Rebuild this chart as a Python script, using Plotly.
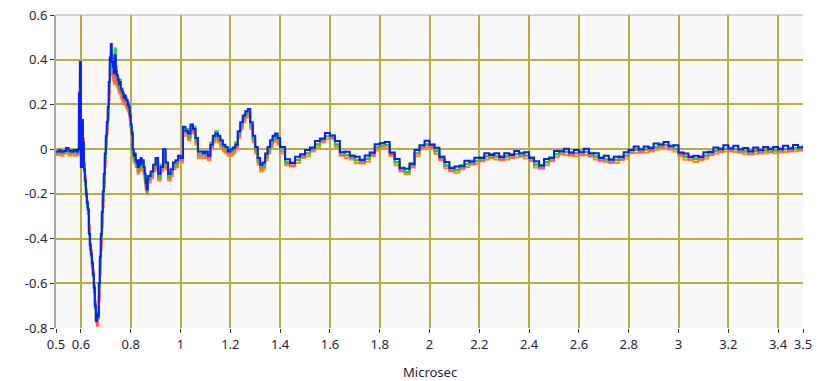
import plotly.graph_objects as go

# ---- data (time in microseconds) ----
time_us = [
    0.50, 0.51, 0.52, 0.53, 0.54, 0.55, 0.56, 0.57, 0.58,
    0.584, 0.588, 0.592, 0.596, 0.600, 0.604, 0.608, 0.612, 0.616, 0.620,
    0.624, 0.628, 0.632, 0.636, 0.640, 0.644, 0.648, 0.652, 0.656, 0.660,
    0.664, 0.668, 0.672, 0.676, 0.680, 0.684, 0.688, 0.692, 0.696, 0.700,
    0.704, 0.708, 0.712, 0.716, 0.720, 0.724, 0.728, 0.732, 0.736, 0.740,
    0.744, 0.748, 0.752, 0.756, 0.760, 0.764, 0.768, 0.772, 0.776, 0.780,
    0.784, 0.788, 0.792, 0.796, 0.800, 0.804, 0.808, 0.812, 0.816, 0.820,
    0.824, 0.828, 0.832, 0.836, 0.840, 0.844, 0.848, 0.852, 0.856, 0.860,
    0.864, 0.868,
    0.87, 0.88, 0.89, 0.90, 0.91, 0.92, 0.93, 0.94, 0.95, 0.96,
    0.97, 0.98, 0.99, 1.00, 1.01, 1.02, 1.03, 1.04, 1.05, 1.06,
    1.07, 1.08, 1.09, 1.10, 1.11, 1.12, 1.13, 1.14, 1.15, 1.16,
    1.17, 1.18, 1.19, 1.20, 1.21, 1.22, 1.23, 1.24, 1.25, 1.26,
    1.27, 1.28, 1.29, 1.30, 1.31, 1.32, 1.33, 1.34, 1.35, 1.36,
    1.37, 1.38, 1.39, 1.40,
    1.42, 1.44, 1.46, 1.48, 1.50, 1.52, 1.54, 1.56, 1.58, 1.60,
    1.62, 1.64, 1.66, 1.68, 1.70, 1.72, 1.74, 1.76, 1.78, 1.80,
    1.82, 1.84, 1.86, 1.88, 1.90, 1.92, 1.94, 1.96, 1.98, 2.00,
    2.02, 2.04, 2.06, 2.08, 2.10, 2.12, 2.14, 2.16, 2.18, 2.20,
    2.22, 2.24, 2.26, 2.28, 2.30, 2.32, 2.34, 2.36, 2.38, 2.40,
    2.42, 2.44, 2.46, 2.48, 2.50, 2.52, 2.54, 2.56, 2.58, 2.60,
    2.62, 2.64, 2.66, 2.68, 2.70, 2.72, 2.74, 2.76, 2.78, 2.80,
    2.82, 2.84, 2.86, 2.88, 2.90, 2.92, 2.94, 2.96, 2.98, 3.00,
    3.02, 3.04, 3.06, 3.08, 3.10, 3.12, 3.14, 3.16, 3.18, 3.20,
    3.22, 3.24, 3.26, 3.28, 3.30, 3.32, 3.34, 3.36, 3.38, 3.40,
    3.42, 3.44, 3.46, 3.48, 3.50,
]

blue = [
    -0.010, -0.005, -0.012, -0.008, 0.005, -0.006, -0.010, -0.004, -0.008,
    -0.01, 0.00, 0.25, 0.39, -0.08, 0.13, 0.03, -0.09, -0.14, -0.20,
    -0.24, -0.27, -0.38, -0.43, -0.47, -0.51, -0.56, -0.62, -0.70, -0.77,
    -0.74, -0.75, -0.60, -0.48, -0.38, -0.28, -0.19, -0.11, -0.02, 0.06,
    0.12, 0.19, 0.30, 0.41, 0.47, 0.39, 0.37, 0.34, 0.42, 0.35,
    0.33, 0.31, 0.29, 0.30, 0.27, 0.26, 0.25, 0.23, 0.24, 0.22,
    0.22, 0.20, 0.19, 0.15, 0.11, 0.07, 0.00, -0.03, -0.02, -0.05,
    -0.06, -0.08, -0.05, -0.07, -0.04, -0.06, -0.05, -0.08, -0.11, -0.15,
    -0.18, -0.14,
    -0.12, -0.10, -0.07, -0.04, -0.11, -0.08, 0.00, -0.06, -0.11, -0.09,
    -0.06, -0.05, -0.03, -0.04, 0.10, 0.08, 0.07, 0.11, 0.09, 0.05,
    -0.01, -0.01, -0.02, -0.01, -0.03, 0.02, 0.06, 0.07, 0.06, 0.04,
    0.02, 0.01, -0.01, 0.00, 0.005, 0.02, 0.08, 0.12, 0.15, 0.17,
    0.18, 0.12, 0.06, 0.01, -0.04, -0.07, -0.06, -0.02, 0.01, 0.04,
    0.06, 0.07, 0.05, 0.01,
    -0.045, -0.062, -0.034, -0.024, -0.004, 0.006, 0.036, 0.046, 0.072, 0.060,
    0.036, -0.014, -0.012, -0.030, -0.034, -0.050, -0.028, -0.016, 0.022, 0.026,
    0.032, -0.016, -0.044, -0.086, -0.088, -0.066, -0.004, 0.016, 0.037, 0.020,
    0.006, -0.036, -0.058, -0.086, -0.078, -0.076, -0.052, -0.056, -0.038, -0.040,
    -0.018, -0.026, -0.018, -0.036, -0.018, -0.026, -0.008, -0.020, -0.014, -0.040,
    -0.054, -0.074, -0.044, -0.040, -0.008, -0.010, 0.002, -0.016, -0.004, -0.014,
    0.002, -0.020, -0.018, -0.040, -0.030, -0.048, -0.034, -0.036, -0.014, -0.004,
    0.012, -0.002, 0.012, 0.004, 0.025, 0.020, 0.032, 0.013, 0.017, -0.016,
    -0.019, -0.035, -0.029, -0.035, -0.014, -0.013, 0.007, 0.000, 0.017, 0.003,
    0.015, -0.002, 0.005, -0.010, 0.007, -0.005, 0.010, 0.000, 0.010, 0.000,
    0.015, 0.003, 0.019, 0.007, 0.016,
]

green = [
    -0.014, -0.012, -0.008, -0.016, -0.004, -0.012, -0.006, -0.014, -0.012,
    -0.016, -0.01, 0.20, 0.36, -0.06, 0.10, 0.02, -0.10, -0.16, -0.21,
    -0.26, -0.29, -0.37, -0.45, -0.48, -0.53, -0.57, -0.64, -0.71, -0.76,
    -0.76, -0.73, -0.62, -0.50, -0.40, -0.30, -0.21, -0.13, -0.04, 0.04,
    0.10, 0.17, 0.28, 0.38, 0.44, 0.42, 0.36, 0.35, 0.45, 0.37,
    0.32, 0.32, 0.28, 0.31, 0.26, 0.27, 0.24, 0.24, 0.23, 0.23,
    0.21, 0.21, 0.18, 0.16, 0.10, 0.08, -0.01, -0.04, -0.03, -0.06,
    -0.07, -0.09, -0.06, -0.08, -0.05, -0.07, -0.06, -0.09, -0.12, -0.16,
    -0.19, -0.15,
    -0.13, -0.11, -0.08, -0.05, -0.12, -0.07, -0.01, -0.07, -0.12, -0.10,
    -0.07, -0.06, -0.04, -0.03, 0.08, 0.09, 0.06, 0.10, 0.10, 0.04,
    -0.02, -0.02, -0.01, -0.02, -0.02, 0.03, 0.05, 0.08, 0.05, 0.03,
    0.01, 0.00, 0.00, -0.01, 0.01, 0.03, 0.07, 0.11, 0.14, 0.16,
    0.17, 0.11, 0.05, 0.00, -0.05, -0.08, -0.07, -0.03, 0.00, 0.03,
    0.05, 0.06, 0.04, 0.00,
    -0.058, -0.060, -0.048, -0.022, -0.018, 0.008, 0.022, 0.048, 0.058, 0.062,
    0.022, -0.012, -0.026, -0.028, -0.048, -0.046, -0.042, -0.014, 0.008, 0.028,
    0.018, -0.014, -0.058, -0.082, -0.102, -0.062, -0.018, 0.018, 0.022, 0.022,
    -0.008, -0.032, -0.072, -0.082, -0.092, -0.072, -0.066, -0.052, -0.052, -0.036,
    -0.032, -0.022, -0.032, -0.032, -0.032, -0.022, -0.022, -0.016, -0.028, -0.036,
    -0.068, -0.070, -0.058, -0.036, -0.022, -0.006, -0.012, -0.012, -0.018, -0.010,
    -0.012, -0.016, -0.032, -0.036, -0.046, -0.044, -0.048, -0.032, -0.028, -0.002,
    -0.002, 0.002, -0.002, 0.008, 0.010, 0.024, 0.018, 0.016, 0.002, -0.014,
    -0.032, -0.032, -0.042, -0.032, -0.028, -0.010, -0.008, 0.004, 0.002, 0.006,
    0.000, 0.002, -0.010, -0.006, -0.008, -0.002, -0.006, 0.004, -0.006, 0.004,
    0.000, 0.006, 0.004, 0.010, 0.002,
]

red = [
    -0.020, -0.014, -0.022, -0.016, -0.008, -0.020, -0.014, -0.018, -0.020,
    -0.022, -0.018, 0.14, 0.33, -0.05, 0.12, 0.04, -0.07, -0.13, -0.19,
    -0.25, -0.28, -0.35, -0.44, -0.46, -0.52, -0.55, -0.61, -0.69, -0.76,
    -0.79, -0.74, -0.66, -0.53, -0.42, -0.33, -0.23, -0.15, -0.06, 0.02,
    0.09, 0.15, 0.25, 0.36, 0.42, 0.37, 0.33, 0.30, 0.38, 0.31,
    0.30, 0.28, 0.26, 0.27, 0.24, 0.23, 0.22, 0.21, 0.21, 0.20,
    0.19, 0.18, 0.17, 0.14, 0.10, 0.06, -0.01, -0.05, -0.04, -0.07,
    -0.07, -0.10, -0.07, -0.09, -0.06, -0.08, -0.07, -0.10, -0.13, -0.17,
    -0.20, -0.16,
    -0.14, -0.12, -0.09, -0.06, -0.13, -0.09, -0.02, -0.08, -0.13, -0.11,
    -0.08, -0.07, -0.05, -0.05, 0.07, 0.07, 0.05, 0.09, 0.08, 0.03,
    -0.03, -0.03, -0.03, -0.03, -0.04, 0.01, 0.04, 0.06, 0.04, 0.02,
    0.00, -0.01, -0.02, -0.02, -0.01, 0.01, 0.06, 0.10, 0.13, 0.15,
    0.16, 0.10, 0.04, -0.01, -0.06, -0.09, -0.08, -0.04, -0.01, 0.02,
    0.04, 0.05, 0.03, -0.01,
    -0.064, -0.072, -0.050, -0.034, -0.020, -0.004, 0.020, 0.036, 0.056, 0.050,
    0.020, -0.024, -0.028, -0.040, -0.050, -0.060, -0.044, -0.026, 0.006, 0.016,
    0.016, -0.026, -0.060, -0.096, -0.104, -0.076, -0.020, 0.006, 0.020, 0.010,
    -0.010, -0.046, -0.074, -0.096, -0.094, -0.086, -0.068, -0.066, -0.054, -0.050,
    -0.034, -0.036, -0.034, -0.046, -0.034, -0.036, -0.024, -0.030, -0.030, -0.050,
    -0.070, -0.084, -0.060, -0.050, -0.024, -0.020, -0.014, -0.026, -0.020, -0.024,
    -0.014, -0.030, -0.034, -0.050, -0.046, -0.058, -0.050, -0.046, -0.030, -0.014,
    -0.004, -0.012, -0.004, -0.006, 0.009, 0.010, 0.016, 0.003, 0.001, -0.026,
    -0.035, -0.045, -0.045, -0.045, -0.030, -0.023, -0.009, -0.010, 0.001, -0.007,
    -0.001, -0.012, -0.011, -0.020, -0.009, -0.015, -0.006, -0.010, -0.006, -0.010,
    -0.001, -0.007, 0.003, -0.003, 0.000,
]

orange = [
    -0.026, -0.022, -0.030, -0.020, -0.018, -0.028, -0.020, -0.030, -0.024,
    -0.028, -0.024, 0.10, 0.30, -0.04, 0.11, 0.05, -0.06, -0.12, -0.18,
    -0.23, -0.27, -0.34, -0.42, -0.45, -0.50, -0.54, -0.60, -0.68, -0.75,
    -0.78, -0.76, -0.68, -0.56, -0.45, -0.35, -0.26, -0.17, -0.08, 0.00,
    0.07, 0.13, 0.22, 0.33, 0.40, 0.36, 0.31, 0.29, 0.36, 0.30,
    0.28, 0.27, 0.25, 0.25, 0.23, 0.22, 0.21, 0.20, 0.20, 0.19,
    0.18, 0.17, 0.16, 0.13, 0.09, 0.05, -0.02, -0.06, -0.05, -0.08,
    -0.08, -0.11, -0.08, -0.10, -0.07, -0.09, -0.08, -0.11, -0.14, -0.18,
    -0.19, -0.17,
    -0.15, -0.13, -0.10, -0.07, -0.14, -0.10, -0.03, -0.09, -0.14, -0.12,
    -0.09, -0.08, -0.06, -0.06, 0.06, 0.06, 0.04, 0.08, 0.07, 0.02,
    -0.04, -0.04, -0.04, -0.04, -0.05, 0.00, 0.03, 0.05, 0.03, 0.01,
    -0.01, -0.02, -0.03, -0.03, -0.02, 0.00, 0.05, 0.09, 0.12, 0.14,
    0.15, 0.09, 0.03, -0.02, -0.07, -0.10, -0.09, -0.05, -0.02, 0.01,
    0.03, 0.04, 0.02, -0.02,
    -0.072, -0.078, -0.062, -0.040, -0.032, -0.010, 0.008, 0.030, 0.044, 0.046,
    0.010, -0.030, -0.040, -0.046, -0.062, -0.064, -0.056, -0.032, -0.006, 0.010,
    0.004, -0.032, -0.072, -0.100, -0.112, -0.082, -0.032, 0.000, 0.008, 0.004,
    -0.022, -0.050, -0.086, -0.100, -0.106, -0.090, -0.080, -0.070, -0.066, -0.054,
    -0.046, -0.040, -0.046, -0.050, -0.046, -0.040, -0.036, -0.034, -0.042, -0.054,
    -0.082, -0.088, -0.072, -0.054, -0.036, -0.024, -0.026, -0.030, -0.032, -0.028,
    -0.026, -0.034, -0.046, -0.054, -0.058, -0.062, -0.062, -0.050, -0.042, -0.018,
    -0.016, -0.016, -0.016, -0.010, -0.003, 0.006, 0.004, -0.002, -0.011, -0.032,
    -0.047, -0.049, -0.057, -0.049, -0.042, -0.027, -0.021, -0.014, -0.011, -0.011,
    -0.013, -0.016, -0.023, -0.024, -0.021, -0.019, -0.018, -0.014, -0.018, -0.014,
    -0.013, -0.011, -0.009, -0.007, -0.012,
]

x_tick_vals = [0.5, 0.6, 0.8, 1.0, 1.2, 1.4, 1.6, 1.8, 2.0, 2.2, 2.4, 2.6, 2.8, 3.0, 3.2, 3.4, 3.5]
x_tick_text = ["0.5", "0.6", "0.8", "1", "1.2", "1.4", "1.6", "1.8", "2", "2.2", "2.4",
               "2.6", "2.8", "3", "3.2", "3.4", "3.5"]
x_grid_vals = [0.6, 0.8, 1.0, 1.2, 1.4, 1.6, 1.8, 2.0, 2.2, 2.4, 2.6, 2.8, 3.0, 3.2, 3.4]
y_tick_vals = [-0.8, -0.6, -0.4, -0.2, 0.0, 0.2, 0.4, 0.6]
y_tick_text = ["-0.8", "-0.6", "-0.4", "-0.2", "0", "0.2", "0.4", "0.6"]
y_grid_vals = [-0.6, -0.4, -0.2, 0.0, 0.2, 0.4]
x_title = "Microsec"

series = [
    ("orange", orange, "#ff8c1a"),
    ("red", red, "#ff5a5a"),
    ("green", green, "#19d419"),
    ("blue", blue, "#0a1eff"),
]

fig = go.Figure()
for name, vals, col in series:
    fig.add_trace(go.Scatter(
        x=time_us, y=vals, mode="lines", name=name,
        line=dict(color=col, width=2, shape="hv"),
        hoverinfo="skip", showlegend=False,
    ))

grid_col = "#b8ae45"
txt_col = "#23233a"
font = dict(family="Noto Sans, Open Sans, sans-serif", size=13, color=txt_col)

fig.update_layout(
    width=819, height=381,
    margin=dict(l=56, r=16, t=15, b=53),
    paper_bgcolor="white",
    plot_bgcolor="#f8f8f8",
    font=font,
    showlegend=False,
    xaxis=dict(
        range=[0.5, 3.5], automargin=False,
        tickmode="array", tickvals=x_tick_vals, ticktext=x_tick_text,
        ticks="outside", ticklen=4, tickwidth=1, tickcolor="#333333",
        showgrid=False, zeroline=False, showline=False,
        minor=dict(tickmode="array", tickvals=x_grid_vals, showgrid=True,
                   gridcolor=grid_col, gridwidth=2, ticks=""),
        fixedrange=True,
    ),
    yaxis=dict(
        range=[-0.8, 0.6], automargin=False,
        tickmode="array", tickvals=y_tick_vals, ticktext=y_tick_text,
        ticks="outside", ticklen=4, tickwidth=1, tickcolor="#333333",
        showgrid=False, zeroline=False,
        showline=True, linecolor="#a8a8a8", linewidth=2,
        minor=dict(tickmode="array", tickvals=y_grid_vals, showgrid=True,
                   gridcolor=grid_col, gridwidth=2, ticks=""),
        fixedrange=True,
    ),
    shapes=[dict(type="line", xref="paper", yref="paper", x0=0, x1=1, y0=1, y1=1,
                 line=dict(color="#a8a8a8", width=1), layer="below")],
    annotations=[dict(text=x_title, xref="paper", yref="paper", x=0.5, y=-44 / 313,
                      xanchor="center", yanchor="middle", showarrow=False,
                      font=dict(size=13, color=txt_col))],
)

fig.write_html("out.html")
